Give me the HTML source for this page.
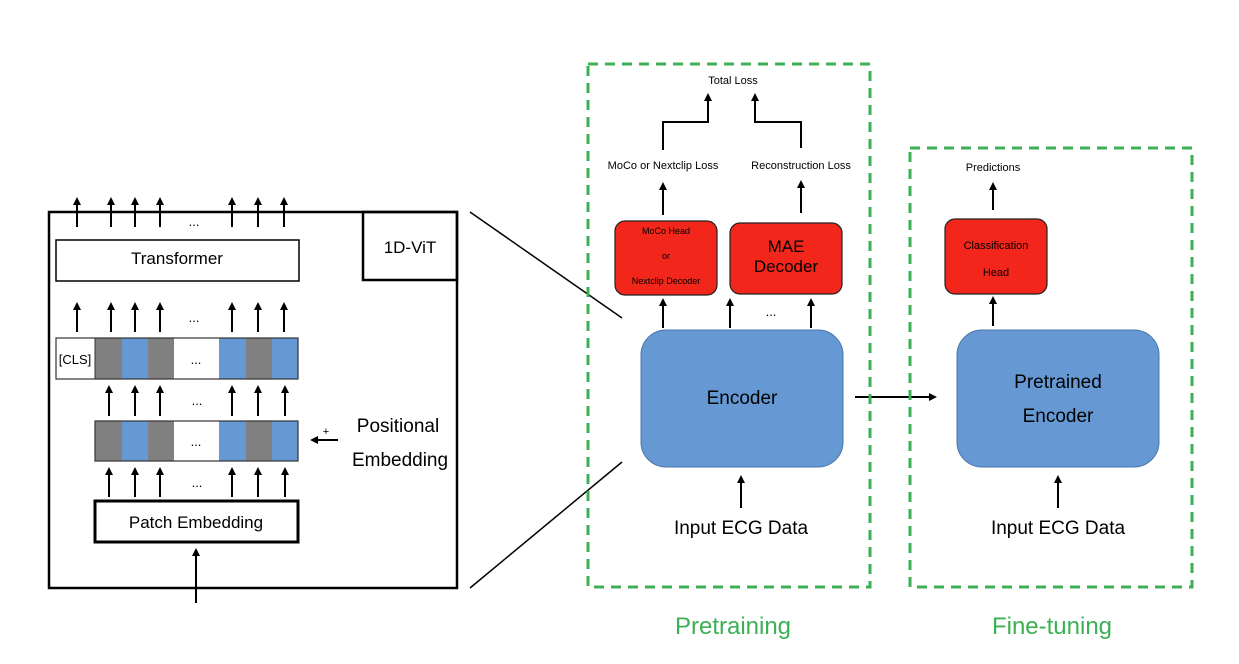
<!DOCTYPE html>
<html><head><style>
html,body{margin:0;padding:0;background:#fff;}
svg{display:block;font-family:"Liberation Sans","DejaVu Sans",sans-serif;}
</style></head><body>
<svg width="1239" height="664" viewBox="0 0 1239 664" xmlns="http://www.w3.org/2000/svg">
<defs>
<marker id="a" markerWidth="8" markerHeight="8" refX="6" refY="4" orient="auto" markerUnits="userSpaceOnUse">
<path d="M0,0 L8,4 L0,8 z" fill="#000"/></marker>
</defs>
<g stroke="#000" stroke-width="2" fill="none" marker-end="url(#a)">
<!-- top arrows -->
<line x1="77" y1="227" x2="77" y2="199"/><line x1="111" y1="227" x2="111" y2="199"/><line x1="135" y1="227" x2="135" y2="199"/><line x1="160" y1="227" x2="160" y2="199"/><line x1="232" y1="227" x2="232" y2="199"/><line x1="258" y1="227" x2="258" y2="199"/><line x1="284" y1="227" x2="284" y2="199"/>
<line x1="77" y1="332" x2="77" y2="304"/><line x1="111" y1="332" x2="111" y2="304"/><line x1="135" y1="332" x2="135" y2="304"/><line x1="160" y1="332" x2="160" y2="304"/><line x1="232" y1="332" x2="232" y2="304"/><line x1="258" y1="332" x2="258" y2="304"/><line x1="284" y1="332" x2="284" y2="304"/>
<line x1="109" y1="416" x2="109" y2="387"/><line x1="135" y1="416" x2="135" y2="387"/><line x1="160" y1="416" x2="160" y2="387"/><line x1="232" y1="416" x2="232" y2="387"/><line x1="258" y1="416" x2="258" y2="387"/><line x1="285" y1="416" x2="285" y2="387"/>
<line x1="109" y1="497" x2="109" y2="469"/><line x1="135" y1="497" x2="135" y2="469"/><line x1="160" y1="497" x2="160" y2="469"/><line x1="232" y1="497" x2="232" y2="469"/><line x1="258" y1="497" x2="258" y2="469"/><line x1="285" y1="497" x2="285" y2="469"/>
<line x1="196" y1="603" x2="196" y2="550"/>
<line x1="338" y1="440" x2="312" y2="440"/>
<!-- pretraining -->
<polyline points="663,150 663,122 708,122 708,95"/>
<polyline points="801,148 801,122 755,122 755,95"/>
<line x1="663" y1="215" x2="663" y2="184"/><line x1="801" y1="213" x2="801" y2="182"/>
<line x1="663" y1="328" x2="663" y2="300"/><line x1="730" y1="328" x2="730" y2="300"/><line x1="811" y1="328" x2="811" y2="300"/>
<line x1="741" y1="508" x2="741" y2="477"/>
<line x1="855" y1="397" x2="935" y2="397"/>
<line x1="993" y1="210" x2="993" y2="184"/><line x1="993" y1="326" x2="993" y2="298"/>
<line x1="1058" y1="508" x2="1058" y2="477"/>
</g>
<!-- left box -->
<rect x="49" y="212" width="408" height="376" fill="none" stroke="#000" stroke-width="2.5"/>
<rect x="363" y="212" width="94" height="68" fill="none" stroke="#000" stroke-width="2.5"/>
<text x="410" y="253" font-size="17" text-anchor="middle">1D-ViT</text>
<rect x="56" y="240" width="243" height="41" fill="#fff" stroke="#000" stroke-width="1.5"/>
<text x="177" y="264" font-size="17" text-anchor="middle">Transformer</text>
<g font-size="13" text-anchor="middle"><text x="194" y="226">...</text><text x="194" y="322">...</text><text x="197" y="405">...</text><text x="197" y="487">...</text></g>
<!-- CLS row -->
<g stroke="none">
<rect x="56" y="338" width="39" height="41" fill="#fff"/>
<rect x="95" y="338" width="27" height="41" fill="#808080"/><rect x="122" y="338" width="26" height="41" fill="#6699D4"/><rect x="148" y="338" width="26" height="41" fill="#808080"/><rect x="174" y="338" width="45" height="41" fill="#fff"/><rect x="219" y="338" width="27" height="41" fill="#6699D4"/><rect x="246" y="338" width="26" height="41" fill="#808080"/><rect x="272" y="338" width="26" height="41" fill="#6699D4"/>
<rect x="95" y="421" width="27" height="40" fill="#808080"/><rect x="122" y="421" width="26" height="40" fill="#6699D4"/><rect x="148" y="421" width="26" height="40" fill="#808080"/><rect x="174" y="421" width="45" height="40" fill="#fff"/><rect x="219" y="421" width="27" height="40" fill="#6699D4"/><rect x="246" y="421" width="26" height="40" fill="#808080"/><rect x="272" y="421" width="26" height="40" fill="#6699D4"/>
</g>
<rect x="56" y="338" width="242" height="41" fill="none" stroke="#333" stroke-width="1.2"/>
<line x1="95" y1="338" x2="95" y2="379" stroke="#333" stroke-width="1"/>
<rect x="95" y="421" width="203" height="40" fill="none" stroke="#333" stroke-width="1.2"/>
<text x="75" y="364" font-size="13" text-anchor="middle">[CLS]</text>
<g font-size="13" text-anchor="middle"><text x="196" y="364">...</text><text x="196" y="446">...</text></g>
<rect x="95" y="501" width="203" height="41" fill="#fff" stroke="#000" stroke-width="3"/>
<text x="196" y="528" font-size="17" text-anchor="middle">Patch Embedding</text>
<text x="326" y="435" font-size="11" text-anchor="middle">+</text>
<text x="398" y="432" font-size="19" text-anchor="middle">Positional</text>
<text x="400" y="466" font-size="19" text-anchor="middle">Embedding</text>
<line x1="470" y1="212" x2="622" y2="318" stroke="#000" stroke-width="1.5"/>
<line x1="470" y1="588" x2="622" y2="462" stroke="#000" stroke-width="1.5"/>
<!-- pretraining box -->
<rect x="588" y="64" width="282" height="523" fill="none" stroke="#3CB054" stroke-width="3" stroke-dasharray="10,7"/>
<text x="733" y="84" font-size="11" text-anchor="middle">Total Loss</text>
<text x="663" y="169" font-size="11" text-anchor="middle">MoCo or Nextclip Loss</text>
<text x="801" y="169" font-size="11" text-anchor="middle">Reconstruction Loss</text>
<rect x="615" y="221" width="102" height="74" rx="10" fill="#F2261A" stroke="#222" stroke-width="1.2"/>
<g font-size="9" text-anchor="middle"><text x="666" y="234">MoCo Head</text><text x="666" y="259">or</text><text x="666" y="284">Nextclip Decoder</text></g>
<rect x="730" y="223" width="112" height="71" rx="10" fill="#F2261A" stroke="#222" stroke-width="1.2"/>
<text x="786" y="252" font-size="17" text-anchor="middle">MAE</text>
<text x="786" y="272" font-size="17" text-anchor="middle">Decoder</text>
<text x="771" y="316" font-size="13" text-anchor="middle">...</text>
<rect x="641" y="330" width="202" height="137" rx="25" fill="#6699D4" stroke="#4a75a8" stroke-width="1"/>
<text x="742" y="404" font-size="19" text-anchor="middle">Encoder</text>
<text x="741" y="534" font-size="19" text-anchor="middle">Input ECG Data</text>
<text x="733" y="634" font-size="24" fill="#3CB054" text-anchor="middle">Pretraining</text>
<!-- fine-tuning -->
<rect x="910" y="148" width="282" height="439" fill="none" stroke="#3CB054" stroke-width="3" stroke-dasharray="10,7"/>
<text x="993" y="171" font-size="11" text-anchor="middle">Predictions</text>
<rect x="945" y="219" width="102" height="75" rx="10" fill="#F2261A" stroke="#222" stroke-width="1.2"/>
<text x="996" y="249" font-size="11" text-anchor="middle">Classification</text>
<text x="996" y="276" font-size="11" text-anchor="middle">Head</text>
<rect x="957" y="330" width="202" height="137" rx="25" fill="#6699D4" stroke="#4a75a8" stroke-width="1"/>
<text x="1058" y="388" font-size="19" text-anchor="middle">Pretrained</text>
<text x="1058" y="422" font-size="19" text-anchor="middle">Encoder</text>
<text x="1058" y="534" font-size="19" text-anchor="middle">Input ECG Data</text>
<text x="1052" y="634" font-size="24" fill="#3CB054" text-anchor="middle">Fine-tuning</text>
</svg>
</body></html>
